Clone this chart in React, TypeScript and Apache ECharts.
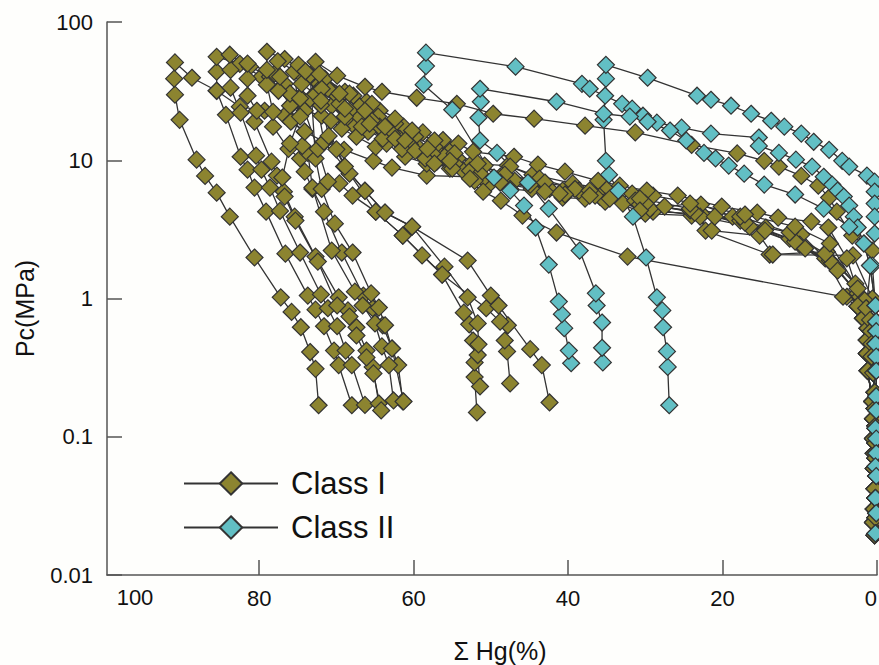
import React, { useEffect, useRef } from "react";
import * as echarts from "echarts";

const xTicksMax = 99.7;

// Low-pressure ends of the curves, along the right-hand edge
const lowA = [[2.5,0.88],[1.8,0.72],[1.2,0.61],[1.3,0.5],[1.3,0.4],[1.2,0.3],[0.6,0.18],[0.5,0.135],[0.5,0.097],[0.4,0.076],[0.4,0.059],[0.3,0.042],[0.4,0.03],[0.5,0.024],[0.3,0.0194]];
const lowB = [[1.4,0.85],[0.9,0.7],[0.8,0.58],[0.7,0.47],[0.7,0.38],[0.5,0.29],[0.3,0.21],[0.3,0.16],[0.2,0.12],[0.2,0.09],[0.2,0.07],[0.1,0.052],[0.2,0.036],[0.2,0.026],[0.1,0.02]];
const lowT = [[0.2,0.89],[0.1,0.68],[0.1,0.58],[0.2,0.47],[0.1,0.38],[0.1,0.3],[0.1,0.196],[0.1,0.155],[0.2,0.115],[0.1,0.097],[0.1,0.076],[0.2,0.061],[0.1,0.052],[0.2,0.036],[0.1,0.028],[0.2,0.02]];

const c1 = [[72.3,0.169],[72.7,0.31],[73.4,0.41],[74.6,0.62],[75.8,0.8],[77.2,1.02],[80.6,1.98],[83.8,3.91],[85.5,5.83],[87,7.7],[88.1,10.1],[90.3,19.6],[90.9,29.8],[91,38.9],[90.9,51],[88.7,39.5],[85.5,31.8],[82.5,24.4],[79.3,22.8],[76.7,21],[75.8,19.3],[74.1,16.1],[71.6,13.6],[69,11.9],[65.2,9.9],[62.8,8.85],[58.3,7.75],[52.5,7.6],[50.1,6.8],[43.5,6.55],[40.7,5.37],[37.8,5.28],[32.9,4.86],[29,4.25],[22.7,4.1],[22.2,3.1],[13.9,2.08],[6.5,2.18],[0.9,0.97]];
const c2 = [[68,0.169],[69.7,0.33],[70.3,0.42],[71.6,0.63],[72.7,0.83],[73.7,1.05],[76.6,2.11],[79.1,4.25],[80.6,6.34],[81.5,8.55],[82.4,10.6],[84.3,21.3],[85.5,31.8],[85.5,43.7],[85.5,56],[82.5,49.8],[79.7,40.2],[76.7,35.7],[74.7,28.8],[72.2,25.6],[70.6,24.8],[68.9,19.6],[67.6,17.5],[65.9,16.1],[63.7,15.6],[62,15],[59.6,12.1],[57,12.1],[55.3,11.6],[52.5,9.45],[47.8,9.15],[44.6,7.87],[39.4,6.8],[35,6.13],[31.7,5.74],[29,5.55],[22.8,4.78],[18.7,3.91],[14.4,3.26],[9.8,2.9],[6.7,1.95],[3.9,1.03]];
const c3 = [[66.3,0.17],[68,0.33],[68.8,0.42],[69.9,0.63],[71.1,0.85],[72,1.07],[74.7,2.15],[77.3,4.3],[78.6,6.34],[79.7,8.55],[80.4,10.8],[82.4,22.1],[83.7,33.5],[83.7,45],[83.8,58],[81.2,47.5],[78.6,40.2],[75.9,24.8],[74.1,22.8],[71.9,21],[70.7,19.3],[69.3,16.9],[67.4,14.8],[64.9,12.5],[63.5,13.2],[61.1,10.6],[58.3,9.45],[57,9.77],[55,9],[53.6,8.4],[50.8,9.15],[47.5,7],[44.7,6.2],[40.7,6.03],[38.6,6.03],[31.3,5.1],[30,4.11],[24,3.98],[21.4,3.1],[15.2,2.85],[13.5,2.08],[3.1,2.05],[0.6,1]];
const c4 = [[64.5,0.174],[65.3,0.32],[66.1,0.42],[67.4,0.62],[68.5,0.82],[69.7,1.02],[72.7,2.01],[75.4,3.91],[76.8,5.93],[77.7,7.75],[78.4,9.77],[80.6,19],[80.3,22.8],[81.5,29.3],[81.5,38.9],[81.5,50],[78,42.3],[76,30.3],[73.4,27.8],[70.9,32.9],[68.9,31.3],[67.8,29.3],[66.1,26.5],[64.4,22.8],[62.7,19],[61.3,17.5],[58.8,15.9],[56.2,14],[54.2,13.2],[52.3,11.5],[47,10.6],[43.9,9.3],[40.4,8.27],[36.1,7.1],[33.3,6.55],[29.8,6.03],[25.8,5.55],[20.1,4.62],[15.5,4.18],[12.8,3.85],[8.5,3.6],[6.3,3.26],[3.9,1.95],[2.3,1.03]];
const c5 = [[61.4,0.18],[62,0.33],[62.8,0.435],[64,0.64],[65.3,0.85],[66.5,1.05],[69.3,2.15],[71.6,4.25],[73.1,6.2],[74.1,8.27],[74.7,10.3],[76.2,12.1],[78.2,17.5],[78.2,22.4],[79,35.2],[79,45],[79,60.9],[76.7,54],[74.7,46],[72.2,35.7],[70.2,30.3],[67,24.4],[64.6,20.7],[62.4,18.4],[59.8,14.8],[57.3,12.5],[54.3,10.3],[51,7.36],[47.5,9],[43.7,7.36],[39.1,6.2],[35.9,5.46],[30.7,4.78],[24.2,4.33],[17.7,3.66],[11.3,2.71],[6.1,1.88],[2.5,1.09]];
const c6 = [[62.6,0.183],[63.2,0.33],[64.1,0.45],[65,0.66],[66.6,0.89],[67.6,1.12],[70.6,2.22],[73.1,6.34],[73.7,11.3],[74.4,12.7],[74.1,16.1],[75.9,19],[76,24.8],[76,30.3],[77.5,31.8],[77.3,40.2],[77.6,52],[74.7,42.3],[72.4,31.8],[69.6,25.6],[67,20.7],[64.4,17.5],[61.8,14.3],[59.2,12.1],[56,10.6],[52.7,8.4],[48.8,7.6],[44.9,6.67],[40.4,5.65],[35.2,5.02],[29.4,4.47],[22.9,3.91],[16.5,3.31],[10,2.45],[5.4,1.7],[1.9,1]];
const c7 = [[64.2,0.155],[65.2,0.287],[66.1,0.375],[67.4,0.54],[68.3,0.74],[69.9,0.89],[72.4,1.85],[75.3,3.66],[76.7,5.46],[77,7.5],[76,13.2],[74.7,20.7],[75.5,43.7],[74.9,49],[73.4,41.5],[71.1,32.9],[68.3,22.8],[65.4,19.3],[62.8,15.6],[60.5,13],[57.6,11.2],[54.7,9.45],[51.4,8],[46.9,7.1],[42.4,6.2],[36.5,5.55],[30,4.86],[23.6,4.18],[17.1,3.54],[10.6,2.58],[5.8,1.79],[2.2,1.03]];
const c8 = [[61.3,0.18],[62.8,0.435],[63.7,0.64],[64.5,0.86],[65.5,1.09],[67.9,2.15],[70.2,3.48],[71.9,6.2],[72.7,10.3],[73.4,41.5],[71.5,38.9],[68.3,30.3],[65.4,25.6],[62.4,20],[60.2,16.4],[57.3,13.9],[54.7,11.2],[51.7,9.45],[48.2,7.87],[43,6.9],[37.2,6.03],[30.7,5.28],[24.2,4.47],[17.7,3.91],[11.3,3],[6.7,2.11],[2.8,1.28]];
const g1 = [[51.8,0.15],[52.1,0.27],[52.1,0.345],[52.3,0.497],[52.8,0.65],[53.5,0.79],[56.3,1.49],[58.9,2.05],[61.4,2.85],[64.9,4.25],[67.9,5.55],[69.6,6.8],[71.1,7],[72.4,12.1],[74.7,28],[74.5,35.7],[68.9,20.7],[66.7,17.5],[64,14.3],[61.5,12.1],[58.5,10.3],[55.3,8.7],[52.1,7.1],[47.5,6.2],[41.1,5.74],[34.6,5.28],[27.5,4.62],[21,3.91],[14.5,3.1],[9.3,2.3],[5.1,1.59],[1.6,0.97]];
const g2 = [[51.4,0.231],[51.7,0.39],[51.6,0.466],[51.7,0.66],[53,1.02],[56,1.7],[60.2,3.31],[63.7,4.18],[66.3,6.03],[69,9],[71.6,13.6],[72.7,30],[72.7,51.6],[69.9,40.9],[66.3,34],[64.1,31.3],[59.6,28.3],[54.4,25.6],[49.7,21.7],[44.4,20],[37.8,17.8],[31.3,15.9],[24,12.9],[18.1,11.2],[14.6,9.9],[12.7,9],[9.8,7.7],[7.6,6.55],[6.2,5.37],[5.2,4.25],[3.2,2.85],[0.6,2.22]];
const g3 = [[47.5,0.243],[47.9,0.414],[48.2,0.497],[47.8,0.64],[48.8,0.68],[50.6,0.85],[56.3,1.49],[61.4,2.85],[64.9,4.25],[68.3,8],[70,12],[72,25],[74,44],[71.9,32.9],[68.9,23.6],[65.7,18.4],[62.4,14.3],[59.8,11.7],[57.3,9.45],[55,8.7],[51,5.93],[48.7,5.1],[45.9,3.98],[41.5,3],[32.3,2.01],[4.4,1.03]];
const g4 = [[42.4,0.177],[43.4,0.33],[44.9,0.43],[49,0.89],[50,1.05],[53,1.88],[60.2,3.31],[63.7,4.18],[66.3,6],[68.9,9],[71,15],[72,27],[72.2,42],[69.6,30.3],[66.3,22.8],[63.7,17.5],[61.1,13.9],[58.2,12.1],[55.3,9.9],[52.7,7.36],[48.8,6.9],[43,5.93],[37.2,5.55],[30.7,4.33],[24.2,4.86],[17.1,4.05],[10.6,3.31],[6.1,2.5],[2.5,1.18]];

const t1 = [[39.6,0.34],[39.9,0.42],[40.5,0.61],[40.8,0.77],[41.2,0.95],[42.5,1.76],[44.2,3.26],[45.7,4.7],[47.5,6.03],[49.6,7.5],[55,23.2],[58.7,35.2],[58.4,48],[58.4,60],[46.8,47.5],[38.2,35.7],[37.2,32.9],[33,25.6],[31.7,23.6],[30.3,21],[28.5,18.7],[25.3,17.2],[21.5,15.6],[15.3,14.6],[15.3,12.7],[12.7,11.3],[10.5,10.1],[8.4,9],[6.9,7.6],[5.8,6.67],[5.1,6.03],[4.3,5.46],[3.6,4.7],[3,3.91],[2.5,3.26],[1.7,2.5],[0.9,1.73]];
const t2 = [[26.9,0.169],[27.1,0.32],[27.2,0.414],[27.7,0.62],[27.8,0.82],[28.5,1.02],[29.9,1.98],[31.6,3.91],[33.5,6.03],[34.7,7.87],[35.1,9.9],[35.4,19.6],[35.2,29.3],[35.1,38.9],[35.1,49],[29.7,39.5],[23.3,29.3],[21.5,27.4],[18.9,24.8],[16.3,21.7],[13.7,19.3],[12,17.5],[9.8,15.6],[8.2,13.6],[6.2,11.9],[4.5,9.9],[3.6,9],[1.3,7.75],[0.3,7],[0.3,5.93],[0.3,4.86],[0.3,3.91],[0.3,2.95],[0.6,1.73]];
const t3 = [[35.5,0.345],[35.6,0.44],[35.6,0.67],[36.3,0.89],[36.4,1.09],[38.5,2.22],[42.5,4.47],[45.2,6.9],[49.2,11.3],[51.4,13.9],[51.6,20.3],[51.3,26.5],[51.4,32.9],[41.5,26.5],[35.4,21.7],[32,20.7],[29.7,19],[26.8,16.4],[24.7,13.9],[22.4,11.3],[20.9,10.3],[19.2,9.15],[17.2,8],[14.6,6.67],[10.6,5.65],[6.9,4.47],[3.6,3.31],[1.7,2.5],[0.9,1.73]];

const classOne = [[c1,lowA],[c2,lowB],[c3,lowA],[c4,lowB],[c5,lowA],[c6,lowB],[c7,lowA],[c8,lowB],[g1,lowA],[g2,lowB],[g3,lowA],[g4,lowB]];
const classTwo = [[t1,lowT],[t2,lowT],[t3,lowT]];

const font = "'Liberation Sans', Arial, sans-serif";
const olive = "#8C8430";
const teal = "#62BFC4";
const ink = "#333333";

function line(name: string, color: string, data: number[][]) {
  return {
    name, type: "line", data, clip: false, symbol: "diamond", symbolSize: 17, showAllSymbol: true,
    lineStyle: { color: ink, width: 1.3 },
    itemStyle: { color, borderColor: ink, borderWidth: 1.2 },
    emphasis: { disabled: true },
  };
}

export default function App() {
  const ref = useRef<HTMLDivElement>(null);
  useEffect(() => {
    const chart = echarts.init(ref.current!, null, { renderer: "svg" });
    chart.setOption({
      animation: false,
      backgroundColor: "#FEFEFC",
      grid: { left: 107, top: 22, right: 2, bottom: 90, containLabel: false, outerBoundsMode: "none" },
      xAxis: {
        type: "value", inverse: true, min: 0, max: xTicksMax, interval: 20,
        name: "Σ Hg(%)", nameLocation: "middle", nameGap: 63,
        nameTextStyle: { fontFamily: font, fontSize: 25, color: "#111", padding: [0, 0, 0, 16] },
        splitLine: { show: false },
        axisLine: { onZero: false, lineStyle: { color: "#555", width: 1.5 } },
        axisTick: { inside: true, length: 15, lineStyle: { color: "#555", width: 1.5 } },
        axisLabel: {
          margin: 12, fontFamily: font, fontSize: 22, color: "#111",
          showMaxLabel: false, alignMinLabel: "right",
          formatter: (v: number) => (v > 99 ? "" : String(v)),
        },
      },
      yAxis: {
        type: "log", logBase: 10, min: 0.01, max: 100,
        name: "Pc(MPa)", nameLocation: "middle", nameGap: 70,
        nameTextStyle: { fontFamily: font, fontSize: 25, color: "#111", padding: [0, 20, 0, 0] },
        splitLine: { show: false },
        minorTick: { show: false },
        axisLine: { onZero: false, lineStyle: { color: "#555", width: 1.5 } },
        axisTick: { inside: true, length: 15, lineStyle: { color: "#555", width: 1.5 } },
        axisLabel: { margin: 14, fontFamily: font, fontSize: 22, color: "#111" },
      },
      legend: {
        orient: "vertical", left: 178, top: 463, itemWidth: 94, itemHeight: 28, itemGap: 13,
        selectedMode: false, data: ["Class I", "Class II"],
        textStyle: { fontFamily: font, fontSize: 31, color: "#111", padding: [0, 0, 0, 8] },
      },
      graphic: [
        { type: "text", x: 135, y: 597, style: { text: "100", fontFamily: font, fontSize: 22, fill: "#111", textAlign: "center", textVerticalAlign: "middle" } },
      ],
      series: [
        ...classOne.map(([a, b]) => line("Class I", olive, [...a, ...b])),
        ...classTwo.map(([a, b]) => line("Class II", teal, [...a, ...b])),
      ],
    });
    return () => chart.dispose();
  }, []);
  return <div ref={ref} style={{ position: "fixed", left: 0, top: 0, width: 879, height: 665 }} />;
}
